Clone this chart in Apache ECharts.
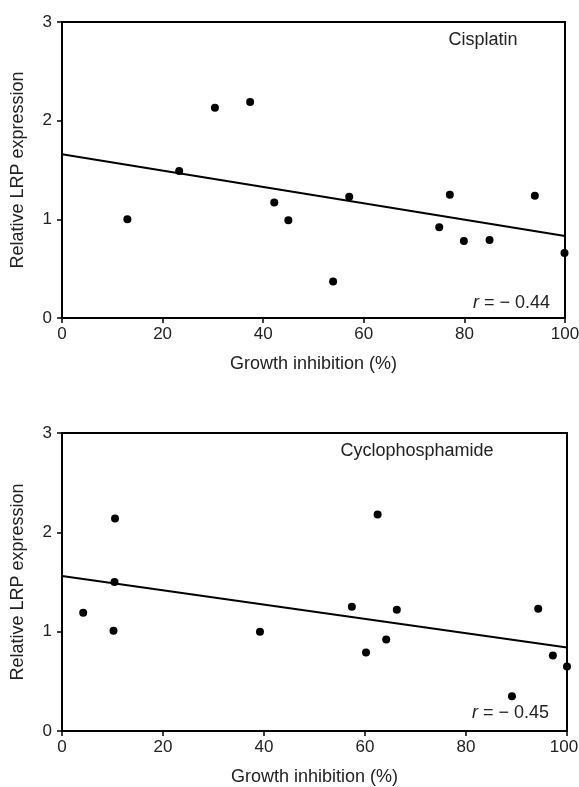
<!DOCTYPE html>
<html>
<head>
<meta charset="utf-8">
<script src="https://cdn.jsdelivr.net/npm/echarts@6/dist/echarts.min.js"></script>
<style>
html,body{margin:0;padding:0;background:#fff;}
#c{width:579px;height:787px;}
</style>
</head>
<body>
<div id="c"></div>
<script>
// Cisplatin panel: [growth inhibition %, relative LRP expression]
const cisplatinPoints = [
  [13, 1.00], [23.3, 1.49], [30.4, 2.13], [37.4, 2.19], [42.2, 1.17],
  [45.0, 0.99], [53.9, 0.37], [57.1, 1.23], [75.0, 0.92], [77.1, 1.25],
  [79.9, 0.78], [85.0, 0.79], [94.0, 1.24], [99.9, 0.66]
];
const cisplatinFit = [[0, 1.66], [100, 0.83]];
const cisplatinR = '− 0.44';

// Cyclophosphamide panel
const cyclophosphamidePoints = [
  [4.2, 1.19], [10.5, 2.14], [10.4, 1.50], [10.2, 1.01], [39.2, 1.00],
  [57.4, 1.25], [60.2, 0.79], [62.5, 2.18], [64.2, 0.92], [66.3, 1.22],
  [89.1, 0.35], [94.3, 1.23], [97.2, 0.76], [100, 0.65]
];
const cyclophosphamideFit = [[0, 1.56], [100, 0.84]];
const cyclophosphamideR = '− 0.45';

const xTicks = [0, 20, 40, 60, 80, 100];
const yTicks = [0, 1, 2, 3];
const xName = 'Growth inhibition (%)';
const yName = 'Relative LRP expression';
const panelNames = ['Cisplatin', 'Cyclophosphamide'];

const FONT = 'Liberation Sans, Arial, Helvetica, sans-serif';
const TXT = '#222';
const FS = 18;
const TFS = 17;

const chart = echarts.init(document.getElementById('c'), null, {renderer: 'canvas'});

function xAxis(gi, shiftLast) {
  const maxV = xTicks[xTicks.length - 1];
  return {
    type: 'value', gridIndex: gi, min: xTicks[0], max: maxV, interval: 20,
    name: xName, nameLocation: 'middle', nameGap: 37,
    nameTextStyle: {fontFamily: FONT, fontSize: FS, color: TXT},
    axisLine: {show: true, onZero: false, lineStyle: {color: '#000', width: 2}},
    axisTick: {show: true, inside: false, length: 5, lineStyle: {color: '#000', width: 1.5}},
    axisLabel: {
      margin: 8, fontFamily: FONT, fontSize: TFS, color: TXT,
      formatter: v => (shiftLast && v === maxV) ? '{m|' + v + '}' : String(v),
      rich: {m: {fontFamily: FONT, fontSize: TFS, color: TXT, padding: [0, 6, 0, 0]}}
    },
    splitLine: {show: false}
  };
}
function yAxis(gi) {
  return {
    type: 'value', gridIndex: gi, min: yTicks[0], max: yTicks[yTicks.length - 1], interval: 1,
    name: yName, nameLocation: 'middle', nameGap: 35,
    nameTextStyle: {fontFamily: FONT, fontSize: FS, color: TXT},
    axisLine: {show: true, onZero: false, lineStyle: {color: '#000', width: 2}},
    axisTick: {show: true, inside: false, length: 5, lineStyle: {color: '#000', width: 1.5}},
    axisLabel: {margin: 10, fontFamily: FONT, fontSize: TFS, color: TXT},
    splitLine: {show: false}
  };
}
function scatter(gi, data) {
  return {
    type: 'scatter', xAxisIndex: gi, yAxisIndex: gi, data: data,
    symbol: 'circle', symbolSize: 8, itemStyle: {color: '#000', opacity: 1}, z: 5, silent: true
  };
}
function fit(gi, data) {
  return {
    type: 'line', xAxisIndex: gi, yAxisIndex: gi, data: data,
    symbol: 'none', lineStyle: {color: '#000', width: 2}, z: 4, silent: true
  };
}

chart.setOption({
  animation: false,
  backgroundColor: '#fff',
  grid: [
    {left: 62, top: 22, width: 503, height: 296, show: true, borderColor: '#000', borderWidth: 2,
     backgroundColor: 'transparent', containLabel: false, outerBoundsMode: 'none'},
    {left: 62, top: 433, width: 505, height: 298, show: true, borderColor: '#000', borderWidth: 2,
     backgroundColor: 'transparent', containLabel: false, outerBoundsMode: 'none'}
  ],
  title: [
    {text: panelNames[0], left: 483, top: 31, textAlign: 'center', padding: 0,
     textStyle: {fontFamily: FONT, fontSize: FS, fontWeight: 'normal', color: TXT}},
    {text: panelNames[1], left: 417, top: 442, textAlign: 'center', padding: 0,
     textStyle: {fontFamily: FONT, fontSize: FS, fontWeight: 'normal', color: TXT}}
  ],
  xAxis: [xAxis(0, false), xAxis(1, true)],
  yAxis: [yAxis(0), yAxis(1)],
  series: [
    fit(0, cisplatinFit), scatter(0, cisplatinPoints),
    fit(1, cyclophosphamideFit), scatter(1, cyclophosphamidePoints)
  ]
});

// r labels anchored to the bottom-right corner of each plot via the axes' scales
function placeR(gi, r, dx, dy) {
  const p = chart.convertToPixel({gridIndex: gi}, [100, 0]);
  return {
    type: 'text', x: p[0] - dx, y: p[1] - dy, z: 10,
    style: {
      text: '{i|r} = ' + r, fontFamily: FONT, fontSize: FS, fill: TXT,
      align: 'right', verticalAlign: 'middle',
      rich: {i: {fontStyle: 'italic', fontFamily: FONT, fontSize: FS, fill: TXT}}
    }
  };
}
chart.setOption({graphic: [placeR(0, cisplatinR, 15, 15), placeR(1, cyclophosphamideR, 18, 18)]});
</script>
</body>
</html>
